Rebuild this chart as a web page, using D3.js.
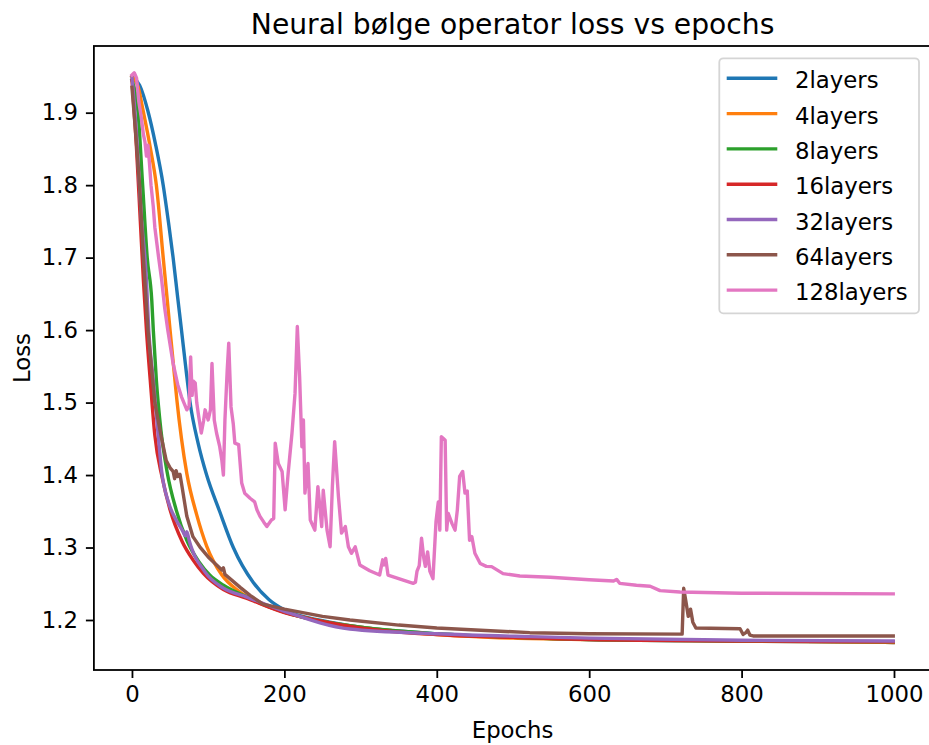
<!DOCTYPE html>
<html>
<head>
<meta charset="utf-8">
<script src="https://cdn.jsdelivr.net/npm/d3@7"></script>
<style>
  html, body { margin: 0; padding: 0; background: #fff; }
  svg { display: block; font-family: "DejaVu Sans", sans-serif; }
</style>
</head>
<body>
<div id="chart"></div>
<script>
// Series names and colours (matplotlib tab10)
const seriesNames = ['2layers', '4layers', '8layers', '16layers', '32layers', '64layers', '128layers'];
const seriesColors = ['#1f77b4', '#ff7f0e', '#2ca02c', '#d62728', '#9467bd', '#8c564b', '#e377c2'];

// Values: [epoch, loss]
const loss2 = [[0,1.950],[10,1.938],[21,1.902],[31,1.856],[41,1.800],[48,1.748],[54,1.700],[60,1.645],[65,1.600],[71,1.545],[76,1.502],[87,1.443],[98,1.400],[115,1.350],[133,1.300],[159,1.252],[180,1.228],[200,1.214],[250,1.199],[300,1.190],[400,1.181],[500,1.176],[600,1.173],[800,1.171],[999,1.169]];
const loss4 = [[0,1.950],[8,1.936],[14,1.906],[24,1.852],[32,1.800],[41,1.700],[46,1.645],[50,1.600],[56,1.535],[59,1.503],[65,1.450],[72,1.402],[85,1.345],[98,1.302],[118,1.262],[140,1.240],[170,1.222],[200,1.211],[250,1.198],[300,1.190],[400,1.180],[500,1.175],[600,1.173],[800,1.171],[999,1.169]];
const loss8 = [[0,1.945],[8,1.900],[14,1.800],[20,1.700],[26,1.641],[28,1.600],[32,1.531],[38,1.462],[46,1.405],[58,1.352],[72,1.310],[88,1.280],[102,1.262],[120,1.248],[150,1.232],[200,1.211],[250,1.198],[300,1.190],[400,1.181],[500,1.176],[600,1.173],[800,1.171],[999,1.170]];
const loss16 = [[0,1.945],[6,1.850],[11,1.750],[15,1.669],[19,1.600],[24,1.531],[30,1.455],[40,1.395],[50,1.352],[66,1.308],[80,1.283],[94,1.264],[120,1.242],[150,1.230],[200,1.210],[250,1.198],[300,1.189],[400,1.180],[500,1.176],[600,1.173],[800,1.171],[999,1.170]];
const loss32 = [[0,1.950],[6,1.870],[12,1.760],[19,1.669],[22,1.600],[28,1.531],[34,1.460],[39,1.405],[48,1.362],[58,1.338],[67,1.322],[70,1.316],[72,1.322],[75,1.310],[96,1.266],[120,1.244],[150,1.232],[200,1.212],[286,1.1875],[400,1.181],[522,1.177],[600,1.175],[800,1.172],[999,1.171]];
const loss64 = [[0,1.935],[5,1.870],[10,1.800],[15,1.700],[21,1.600],[30,1.500],[38,1.455],[45,1.420],[50,1.410],[54,1.405],[56,1.395],[58,1.406],[60,1.398],[63,1.401],[66,1.382],[72,1.343],[80,1.315],[89,1.301],[100,1.287],[110,1.277],[118,1.269],[120,1.272],[122,1.263],[142,1.245],[155,1.234],[172,1.222],[200,1.215],[250,1.205],[286,1.200],[350,1.193],[400,1.189],[522,1.1825],[600,1.181],[722,1.1805],[724,1.2437],[727,1.225],[730,1.205],[733,1.215],[736,1.197],[740,1.189],[798,1.188],[802,1.180],[806,1.183],[808,1.186],[811,1.179],[815,1.178],[999,1.178]];
const loss128 = [[0,1.952],[3,1.955],[6,1.948],[9,1.915],[12,1.895],[15,1.870],[17,1.860],[19,1.840],[21,1.855],[23,1.830],[25,1.800],[28,1.770],[30,1.742],[35,1.700],[39,1.669],[43,1.630],[47,1.600],[54,1.554],[60,1.525],[65,1.508],[72,1.490],[75,1.495],[77,1.563],[79,1.510],[80,1.530],[83,1.527],[85,1.500],[87,1.485],[91,1.458],[94,1.475],[96,1.490],[100,1.476],[103,1.490],[105,1.554],[108,1.476],[111,1.458],[115,1.440],[118,1.420],[120,1.400],[122,1.476],[125,1.545],[127,1.582],[130,1.494],[133,1.470],[135,1.444],[140,1.442],[144,1.389],[148,1.375],[155,1.368],[161,1.363],[164,1.352],[168,1.343],[173,1.335],[177,1.329],[183,1.338],[186,1.340],[188,1.444],[192,1.416],[197,1.405],[201,1.352],[205,1.403],[210,1.458],[214,1.513],[217,1.605],[220,1.536],[223,1.439],[225,1.476],[227,1.375],[231,1.416],[234,1.338],[240,1.324],[244,1.384],[249,1.329],[251,1.379],[256,1.324],[260,1.301],[263,1.384],[266,1.446],[271,1.370],[275,1.320],[280,1.329],[284,1.301],[288,1.292],[293,1.301],[299,1.276],[312,1.268],[325,1.262],[329,1.283],[331,1.276],[333,1.285],[336,1.262],[350,1.257],[369,1.2506],[372,1.252],[374,1.267],[377,1.275],[380,1.313],[383,1.285],[385,1.274],[388,1.294],[391,1.267],[395,1.257],[399,1.336],[402,1.363],[404,1.324],[406,1.453],[409,1.450],[411,1.448],[413,1.324],[415,1.347],[420,1.333],[424,1.324],[427,1.352],[430,1.398],[434,1.405],[437,1.375],[440,1.378],[443,1.310],[446,1.315],[450,1.292],[457,1.278],[465,1.274],[472,1.2736],[487,1.264],[509,1.2607],[549,1.259],[600,1.2555],[632,1.2538],[636,1.256],[640,1.2506],[662,1.248],[680,1.2465],[693,1.2405],[719,1.2386],[800,1.237],[999,1.236]];

// which series are smooth (drawn with a monotone curve) vs noisy (linear)
const seriesData = [loss2, loss4, loss8, loss16, loss32, loss64, loss128];
const smoothSeries = [true, true, true, true, true, false, false];

// Ticks
const xTicks = [0, 200, 400, 600, 800, 1000];
const yTicks = [1.2, 1.3, 1.4, 1.5, 1.6, 1.7, 1.8, 1.9];

const chartTitle = 'Neural bølge operator loss vs epochs';
const xLabel = 'Epochs';
const yLabel = 'Loss';

// Layout
const width = 929, height = 745;
const plot = { left: 93.9, right: 931.3, top: 46, bottom: 670 };
const fontSize = 22.8;
const lineWidth = 3.4;

const svg = d3.select('#chart')
  .append('svg')
  .attr('width', width)
  .attr('height', height);

const xScale = d3.scaleLinear().domain([-49.95, 1048.95]).range([plot.left, plot.right]);
const yScale = d3.scaleLinear().domain([1.131, 1.992]).range([plot.bottom, plot.top]);

// Lines
const lineGroup = svg.append('g').attr('class', 'lines');
seriesData.forEach((data, i) => {
  const line = d3.line()
    .x(d => xScale(d[0]))
    .y(d => yScale(d[1]))
    .curve(smoothSeries[i] ? d3.curveMonotoneX : d3.curveLinear);
  lineGroup.append('path')
    .datum(data)
    .attr('d', line)
    .style('fill', 'none')
    .style('stroke', seriesColors[i])
    .style('stroke-width', lineWidth)
    .style('stroke-linejoin', 'round')
    .style('stroke-linecap', 'square');
});

// Axes
const xAxis = d3.axisBottom(xScale)
  .tickValues(xTicks)
  .tickFormat(d3.format('d'))
  .tickSize(8)
  .tickPadding(8);
svg.append('g')
  .attr('class', 'x-axis')
  .attr('transform', `translate(0, ${plot.bottom})`)
  .call(xAxis);

const yAxis = d3.axisLeft(yScale)
  .tickValues(yTicks)
  .tickFormat(d3.format('.1f'))
  .tickSize(8)
  .tickPadding(8);
svg.append('g')
  .attr('class', 'y-axis')
  .attr('transform', `translate(${plot.left}, 0)`)
  .call(yAxis);

svg.selectAll('.domain').remove();
svg.selectAll('.tick line')
  .style('stroke', '#000')
  .style('stroke-width', 1.8);
svg.selectAll('.tick text')
  .style('fill', '#000')
  .style('font-family', '"DejaVu Sans"')
  .style('font-size', `${fontSize}px`);

// Spines
svg.append('rect')
  .attr('x', plot.left)
  .attr('y', plot.top)
  .attr('width', plot.right - plot.left)
  .attr('height', plot.bottom - plot.top)
  .style('fill', 'none')
  .style('stroke', '#000')
  .style('stroke-width', 1.8);

// Title and labels
svg.append('text')
  .attr('x', (plot.left + plot.right) / 2)
  .attr('y', 34)
  .attr('text-anchor', 'middle')
  .style('font-size', '28.2px')
  .text(chartTitle);

svg.append('text')
  .attr('x', (plot.left + plot.right) / 2)
  .attr('y', 738)
  .attr('text-anchor', 'middle')
  .style('font-size', `${fontSize}px`)
  .text(xLabel);

svg.append('text')
  .attr('transform', `translate(30, ${(plot.top + plot.bottom) / 2}) rotate(-90)`)
  .attr('text-anchor', 'middle')
  .style('font-size', `${fontSize}px`)
  .text(yLabel);

// Legend
const legend = svg.append('g')
  .attr('class', 'legend')
  .attr('transform', 'translate(719.3, 58.3)');

legend.append('rect')
  .attr('width', 199.7)
  .attr('height', 255)
  .attr('rx', 4)
  .style('fill', 'rgba(255,255,255,0.8)')
  .style('stroke', '#d5d5d5')
  .style('stroke-width', 1.8);

const legendItems = legend.selectAll('.legend-item')
  .data(seriesNames)
  .enter()
  .append('g')
  .attr('class', 'legend-item')
  .attr('transform', (d, i) => `translate(0, ${20 + i * 35.3})`);

legendItems.append('line')
  .attr('x1', 7.4)
  .attr('x2', 58)
  .attr('y1', 0)
  .attr('y2', 0)
  .style('stroke', (d, i) => seriesColors[i])
  .style('stroke-width', lineWidth);

legendItems.append('text')
  .attr('x', 75.7)
  .attr('y', 10)
  .style('font-size', `${fontSize}px`)
  .style('fill', '#000')
  .text(d => d);
</script>
</body>
</html>
